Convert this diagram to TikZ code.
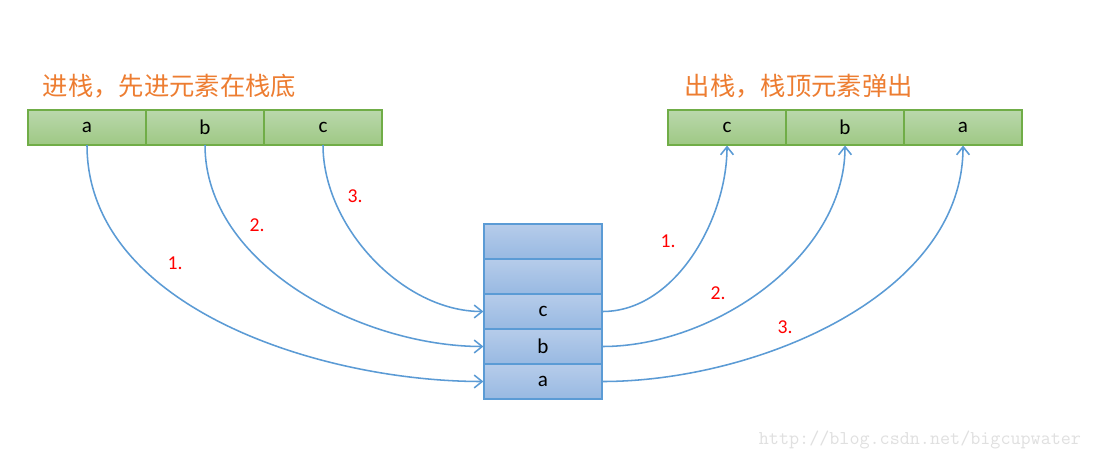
\documentclass[tikz,border=0pt]{standalone}
\usepackage{fontspec}
\setmainfont{Carlito}
\newfontfamily\cjk{Noto Sans CJK SC}
\usetikzlibrary{arrows.meta}

\definecolor{linkblue}{RGB}{91,155,213}
\definecolor{titleorange}{RGB}{237,125,49}
\definecolor{cellgreen}{RGB}{112,173,71}

\tikzset{
  greencell/.style={draw=cellgreen, line width=0.8pt, top color={rgb,255:red,186;green,216;blue,172},
    bottom color={rgb,255:red,158;green,200;blue,132}, minimum width=2.95cm, minimum height=0.875cm,
    inner sep=0pt, font=\fontsize{15}{17}\selectfont},
  stackcell/.style={draw=linkblue, line width=0.8pt, top color={rgb,255:red,182;green,204;blue,234},
    bottom color={rgb,255:red,152;green,185;blue,226}, minimum width=2.95cm, minimum height=0.875cm,
    inner sep=0pt, font=\fontsize{15}{17}\selectfont},
  link/.style={draw=linkblue, line width=1.1pt, -{Straight Barb[length=2mm,width=3.2mm]}},
  numlbl/.style={text=red, font=\fontsize{14}{16}\selectfont},
  headline/.style={text=titleorange, anchor=base west, font=\cjk\fontsize{18}{21}\selectfont}
}

\begin{document}
\begin{tikzpicture}[x=0.025cm, y=-0.025cm]
  \useasboundingbox[fill=white] (0,0) rectangle (1096,459);

  % titles
  \node[headline] (tin) at (38,96) {进栈，先进元素在栈底};
  \node[headline] (tout) at (680,96) {出栈，栈顶元素弹出};

  % input row
  \node[greencell] (in1) at (87,127.5) {a};
  \node[greencell] (in2) at (205,127.5) {b};
  \node[greencell] (in3) at (323,127.5) {c};

  % output row
  \node[greencell] (out1) at (727,127.5) {c};
  \node[greencell] (out2) at (845,127.5) {b};
  \node[greencell] (out3) at (963,127.5) {a};

  % stack
  \node[stackcell] (s1) at (543,381.5) {a};
  \node[stackcell] (s2) at (543,346.5) {b};
  \node[stackcell] (s3) at (543,311.5) {c};
  \node[stackcell] (s4) at (543,276.5) {};
  \node[stackcell] (s5) at (543,241.5) {};

  % push
  \draw[link] (in1.center) ++(0,17.5) coordinate (p1) to[out=-90, in=180, looseness=0.9] (s1.west);
  \draw[link] (in2.center) ++(0,17.5) coordinate (p2) to[out=-90, in=180, looseness=0.9] (s2.west);
  \draw[link] (in3.center) ++(0,17.5) coordinate (p3) to[out=-90, in=180, looseness=0.9] (s3.west);

  % pop
  \draw[link] (s3.east) to[out=0, in=-90, looseness=0.9] (out1.south);
  \draw[link] (s2.east) to[out=0, in=-90, looseness=0.9] (out2.south);
  \draw[link] (s1.east) to[out=0, in=-90, looseness=0.9] (out3.south);

  % order numbers
  \node[numlbl] (n1) at (175,263) {1.};
  \node[numlbl] (n2) at (257,225) {2.};
  \node[numlbl] (n3) at (355,196) {3.};
  \node[numlbl] (m1) at (668,241) {1.};
  \node[numlbl] (m2) at (718,293) {2.};
  \node[numlbl] (m3) at (785,327) {3.};

  \node[text=black!12, anchor=base east, font=\ttfamily\fontsize{13.9}{16}\selectfont] (mark) at (1086,444) {http://blog.csdn.net/bigcupwater};
\end{tikzpicture}
\end{document}
